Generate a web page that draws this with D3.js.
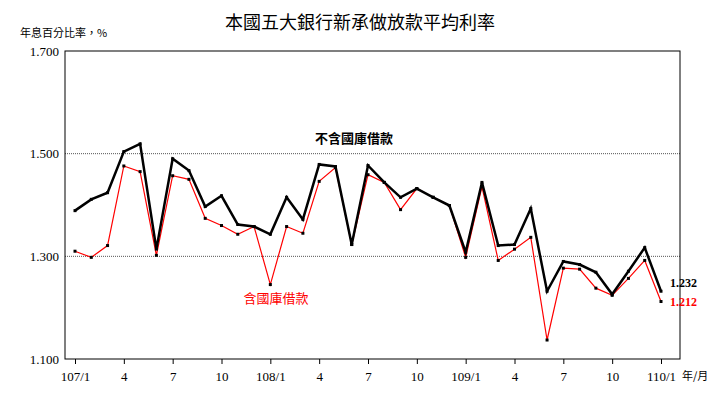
<!DOCTYPE html><html><head><meta charset="utf-8"><script src="https://cdn.jsdelivr.net/npm/d3@7"></script>
<style>body{margin:0;background:#fff}</style></head><body><svg id="c" width="722" height="402"></svg><script>
const months=d3.range(37);
const xTickLabels=["107/1","4","7","10","108/1","4","7","10","109/1","4","7","10","110/1"];
const excl=[1.389,1.411,1.424,1.504,1.519,1.314,1.490,1.467,1.397,1.418,1.362,1.358,1.343,1.415,1.372,1.479,1.475,1.323,1.477,1.444,1.415,1.432,1.415,1.399,1.308,1.444,1.321,1.323,1.393,1.232,1.290,1.284,1.269,1.226,1.271,1.317,1.232];
const incl=[1.310,1.298,1.321,1.476,1.465,1.302,1.457,1.450,1.374,1.360,1.343,1.358,1.245,1.358,1.345,1.446,1.473,1.323,1.459,1.444,1.391,1.432,1.415,1.399,1.298,1.436,1.292,1.314,1.337,1.137,1.277,1.275,1.238,1.224,1.257,1.292,1.212];
const yTicks=[1.1,1.3,1.5,1.7];
const svg=d3.select("#c");const F="'Noto Sans CJK TC','Liberation Serif',serif";
const L=65,R=680,T=51,B=359;
const x=d3.scaleLinear().domain([0,36]).range([75,661]);
const y=d3.scaleLinear().domain([1.1,1.7]).range([B,T]);
svg.append("text").attr("x",360).attr("y",29).attr("text-anchor","middle").attr("font-family",F).attr("font-size",18).text("本國五大銀行新承做放款平均利率");
svg.append("text").attr("x",20).attr("y",37).attr("font-family",F).attr("font-size",11).text("年息百分比率，%");
svg.selectAll(".g").data([1.3,1.5]).join("line").attr("x1",L).attr("x2",R).attr("y1",d=>y(d)).attr("y2",d=>y(d)).attr("stroke","#555").attr("stroke-dasharray","1,1");
svg.append("rect").attr("x",L).attr("y",T).attr("width",R-L).attr("height",B-T).attr("fill","none").attr("stroke","#000");
const ya=svg.append("g").attr("transform",`translate(${L},0)`).call(d3.axisLeft(y).tickValues(yTicks).tickFormat(d3.format(".3f")).tickSize(0).tickPadding(6));
ya.select(".domain").remove();ya.selectAll("text").attr("font-family","'Liberation Serif',serif").attr("font-size",13).attr("fill","#000");
const xa=svg.append("g").attr("transform",`translate(0,${B})`).call(d3.axisBottom(x).tickValues(d3.range(0,37,3)).tickFormat((d,i)=>xTickLabels[i]).tickSize(5));
xa.select(".domain").remove();xa.selectAll("text").attr("font-family","'Liberation Serif',serif").attr("font-size",13).attr("fill","#000").attr("dy","1.1em");
svg.append("text").attr("x",682).attr("y",380).attr("font-family",F).attr("font-size",11).text("年/月");
const line=d3.line().x((d,i)=>x(i)).y(d=>y(d));
svg.append("path").datum(incl).attr("d",line).attr("fill","none").attr("stroke","#f00").attr("stroke-width",1.2);
svg.append("path").datum(excl).attr("d",line).attr("fill","none").attr("stroke","#000").attr("stroke-width",2.5);
[incl,excl].forEach(s=>svg.append("g").selectAll("rect").data(s).join("rect").attr("x",(d,i)=>x(i)-1.5).attr("y",d=>y(d)-1.5).attr("width",3).attr("height",3).attr("fill","#000"));
svg.append("text").attr("x",670).attr("y",y(excl[36])-4).attr("font-family","'Liberation Serif',serif").attr("font-weight","bold").attr("font-size",12).text(excl[36].toFixed(3));
svg.append("text").attr("x",670).attr("y",y(incl[36])+4).attr("font-family","'Liberation Serif',serif").attr("font-weight","bold").attr("font-size",12).attr("fill","#f00").text(incl[36].toFixed(3));
svg.append("text").attr("x",354).attr("y",143).attr("text-anchor","middle").attr("font-family",F).attr("font-weight","bold").attr("font-size",13).text("不含國庫借款");
svg.append("text").attr("x",276).attr("y",303).attr("text-anchor","middle").attr("font-family",F).attr("font-size",13).attr("fill","#f00").text("含國庫借款");
</script></body></html>
